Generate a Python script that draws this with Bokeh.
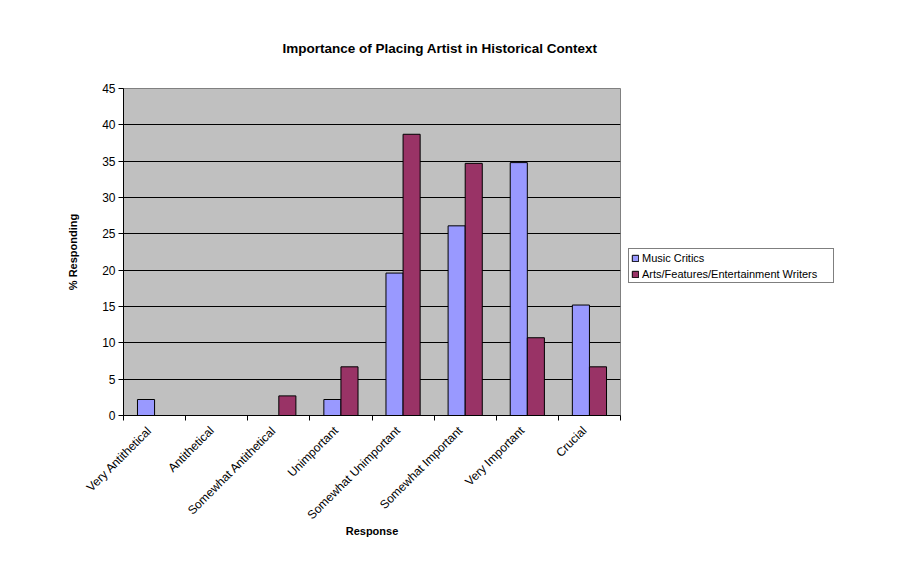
import numpy as np
from bokeh.plotting import figure
from bokeh.models import FixedTicker, Range1d, Legend, LegendItem, CustomJSTickFormatter
from bokeh.embed import file_html
from bokeh.resources import INLINE

categories = ["Very Antithetical", "Antithetical", "Somewhat Antithetical", "Unimportant",
              "Somewhat Unimportant", "Somewhat Important", "Very Important", "Crucial"]
music_critics = [2.2, 0, 0, 2.2, 19.6, 26.1, 34.8, 15.2]
arts_writers = [0, 0, 2.7, 6.7, 38.7, 34.7, 10.7, 6.7]
y_ticks = [0, 5, 10, 15, 20, 25, 30, 35, 40, 45]

FONT = "Liberation Sans"
n = len(categories)
idx = np.arange(n)
bw = 0.275
label_shift = 0.08

p = figure(frame_width=497, frame_height=327,
           min_border_left=123, min_border_right=280, min_border_top=88, min_border_bottom=162,
           x_range=Range1d(-0.5, n - 0.5), y_range=Range1d(0, 45),
           output_backend="svg", toolbar_location=None,
           title="Importance of Placing Artist in Historical Context")

p.background_fill_color = "#C0C0C0"
p.border_fill_color = "white"
p.outline_line_color = "#808080"
p.outline_line_width = 1

p.title.text_font = FONT
p.title.text_font_size = "13.5px"
p.title.text_font_style = "bold"
p.title.text_color = "black"
p.title.align = "left"
p.title.offset = 159
p.title.standoff = 65

r1 = p.vbar(x=idx - bw / 2, width=bw, top=music_critics, fill_color="#9999FF", line_color="black", line_width=1)
r2 = p.vbar(x=idx + bw / 2, width=bw, top=arts_writers, fill_color="#993366", line_color="black", line_width=1)

# grid
p.xgrid.visible = False
p.ygrid.ticker = FixedTicker(ticks=y_ticks[1:-1])
p.ygrid.grid_line_color = "black"
p.ygrid.grid_line_width = 1

# y axis
ya = p.yaxis[0]
ya.ticker = FixedTicker(ticks=y_ticks)
ya.axis_line_color = "black"
ya.major_tick_line_color = "black"
ya.major_tick_out = 5
ya.major_tick_in = 0
ya.minor_tick_line_color = None
ya.major_label_text_font = FONT
ya.major_label_text_font_size = "12px"
ya.major_label_text_color = "black"
ya.major_label_standoff = 3
ya.axis_label = "% Responding"
ya.axis_label_text_font = FONT
ya.axis_label_text_font_size = "11px"
ya.axis_label_text_font_style = "bold"
ya.axis_label_text_color = "black"
ya.axis_label_standoff = 20

# x axis
xa = p.xaxis[0]
xa.ticker = FixedTicker(ticks=list(idx - label_shift), minor_ticks=list(np.arange(n + 1) - 0.5))
xa.formatter = CustomJSTickFormatter(args=dict(labels=categories, shift=label_shift),
                                     code="return labels[Math.round(tick + shift)];")
xa.major_label_orientation = np.pi / 4
xa.major_tick_out = 0
xa.major_tick_in = 0
xa.minor_tick_out = 5
xa.minor_tick_in = 0
xa.minor_tick_line_color = "black"
xa.axis_line_color = "black"
xa.major_label_text_font = FONT
xa.major_label_text_font_size = "12px"
xa.major_label_text_color = "black"
xa.major_label_standoff = 8
xa.axis_label = "Response"
xa.axis_label_text_font = FONT
xa.axis_label_text_font_size = "11px"
xa.axis_label_text_font_style = "bold"
xa.axis_label_text_color = "black"
xa.axis_label_standoff = -5

legend = Legend(items=[LegendItem(label="Music Critics", renderers=[r1]),
                       LegendItem(label="Arts/Features/Entertainment Writers", renderers=[r2])],
                location=(8, 132))
legend.border_line_color = "black"
legend.border_line_width = 1
legend.background_fill_color = "white"
legend.background_fill_alpha = 1
legend.label_text_font = FONT
legend.label_text_font_size = "11px"
legend.label_text_color = "black"
legend.glyph_width = 8
legend.glyph_height = 8
legend.label_height = 13
legend.label_width = 189
legend.label_standoff = 3
legend.padding = 2
legend.spacing = 3
legend.margin = 0
p.add_layout(legend, "right")

open("out.html", "w").write(file_html(p, INLINE))
